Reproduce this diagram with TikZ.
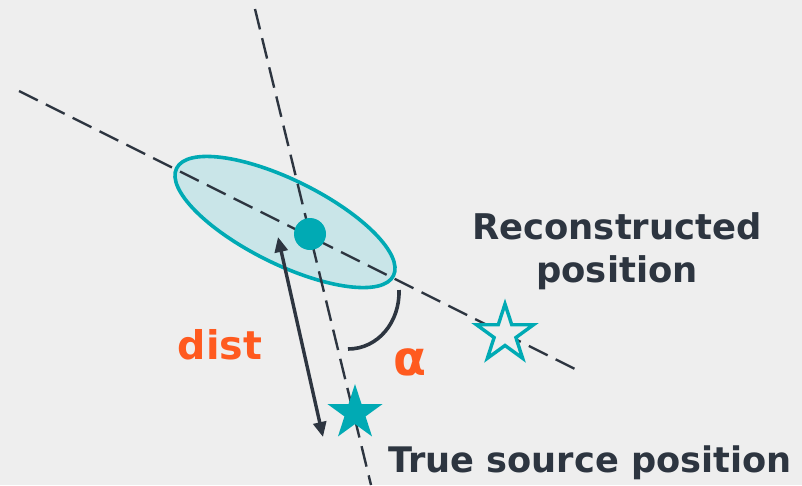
\documentclass[tikz,border=0pt]{standalone}
\usepackage{fontspec}
\setmainfont{DejaVu Sans}
\usetikzlibrary{shapes.geometric,arrows.meta}
\definecolor{bgc}{HTML}{EEEEEE}
\definecolor{teal1}{HTML}{00AAB4}
\definecolor{tealfill}{HTML}{C9E5E8}
\definecolor{darkc}{HTML}{2D3540}
\definecolor{orng}{HTML}{FF5A1F}
\tikzset{
  dline/.style={darkc, line width=2.4pt, dash pattern=on 21pt off 9pt},
  lbl/.style={font=\bfseries, text=darkc, inner sep=0pt},
  olbl/.style={font=\bfseries, text=orng, inner sep=0pt},
  starshape/.style={star, star points=5, star point ratio=2.618, inner sep=0pt}
}
\begin{document}
\begin{tikzpicture}[x=1pt,y=-1pt]
\fill[bgc] (0,0) rectangle (802,485);
\useasboundingbox (0,0) rectangle (802,485);
% dashed lines
\coordinate (l1a) at (19,91);
\coordinate (l1b) at (577,370);
\coordinate (l2a) at (255,9);
\coordinate (l2b) at (371,485);
% ellipse
\draw[teal1, line width=3.6pt, fill=tealfill] (285,222) ellipse [x radius=121pt, y radius=42pt, rotate=-26.35];
\draw[dline] (l1a) -- (l1b);
\draw[dline] (l2a) -- (l2b);
% dot
\node[circle, fill=teal1, minimum size=32pt, inner sep=0pt] (dot) at (310,234) {};
% stars
\node[starshape, fill=teal1, minimum size=58pt] (true) at (355,413) {};
\node[starshape, draw=teal1, line width=3.4pt, fill=bgc, minimum size=60pt] (reco) at (505,334) {};
% dist arrow
\coordinate (da) at (278,237);
\coordinate (db) at (323,437);
\draw[darkc, line width=3.4pt, {Triangle[length=15pt,width=13pt]}-{Triangle[length=15pt,width=13pt]}] (da) -- (db);
% alpha arc
\coordinate (aa) at (399,290);
\coordinate (ab) at (348,349);
\draw[darkc, line width=3.6pt] (aa) .. controls (400,322) and (378,349) .. (ab);
% labels
\node[lbl, font=\fontsize{35.4}{43}\selectfont\bfseries, align=center] (rtext) at (617,251) {Reconstructed\\position};
\node[lbl, font=\fontsize{35.2}{42}\selectfont\bfseries] (ttext) at (590,463) {True source position};
\node[olbl, font=\fontsize{39.5}{46}\selectfont\bfseries] (dtext) at (220,345) {dist};
\node[olbl, font=\fontsize{48}{56}\selectfont\bfseries] (atext) at (410,362) {α};
\end{tikzpicture}
\end{document}
